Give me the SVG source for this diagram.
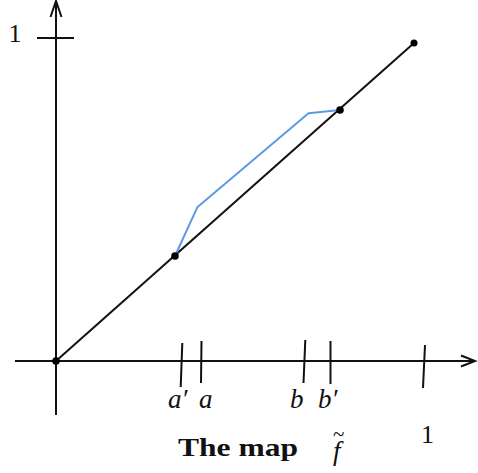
<svg xmlns="http://www.w3.org/2000/svg" width="478" height="473" viewBox="0 0 478 473">
<style>
.ax{stroke:#111;stroke-width:2;fill:none;stroke-linecap:butt}
.tk{stroke:#111;stroke-width:2;fill:none}
.lbl{font-family:"Liberation Serif",serif;font-style:italic;font-size:27px;fill:#111}
.num{font-family:"Liberation Serif",serif;font-size:26px;fill:#111}
.dot{fill:#000}
</style>
<rect width="478" height="473" fill="#fff"/>
<g id="connectors">
<g id="axes">
<line class="ax" x1="15" y1="361" x2="475" y2="361"/>
<polyline class="ax" points="461,355.5 475,361 461,366.5"/>
<line class="ax" x1="56" y1="415" x2="56" y2="1"/>
<polyline class="ax" points="50.5,17 56,1 61.5,17"/>
</g>
<line id="diagonal" class="ax" x1="56" y1="361" x2="414" y2="43"/>
<polyline id="ftilde" points="175,256 197.3,207.3 308.5,113.3 340,110" fill="none" stroke="#5b9be3" stroke-width="2" stroke-linejoin="round"/>
</g>
<g id="ticks">
<line class="tk" x1="37" y1="38" x2="74" y2="38"/>
<line class="tk" x1="182.3" y1="343" x2="180.7" y2="387"/>
<line class="tk" x1="201.5" y1="341" x2="201" y2="383"/>
<line class="tk" x1="305.3" y1="340" x2="303.5" y2="383"/>
<line class="tk" x1="330.5" y1="341" x2="330.5" y2="384"/>
<line class="tk" x1="425" y1="345" x2="423" y2="388"/>
</g>
<g id="points">
<circle class="dot" cx="56" cy="361" r="3.8"/>
<circle class="dot" cx="175" cy="256" r="3.8"/>
<circle class="dot" cx="340" cy="110" r="3.8"/>
<circle class="dot" cx="414" cy="43" r="3.5"/>
</g>
<g id="labels">
<text class="num" x="8.5" y="42">1</text>
<text class="num" x="421" y="443">1</text>
<text class="lbl" x="168" y="408">a′</text>
<text class="lbl" x="199" y="408">a</text>
<text class="lbl" x="290" y="408">b</text>
<text class="lbl" x="318" y="408">b′</text>
<text x="178" y="456" font-family="Liberation Serif,serif" font-weight="bold" font-size="26" textLength="120" lengthAdjust="spacingAndGlyphs" fill="#111">The map</text>
<text class="lbl" x="333" y="460">f<tspan dx="-7.5" dy="-19" style="font-style:normal;font-size:21px">~</tspan></text>
</g>
</svg>
